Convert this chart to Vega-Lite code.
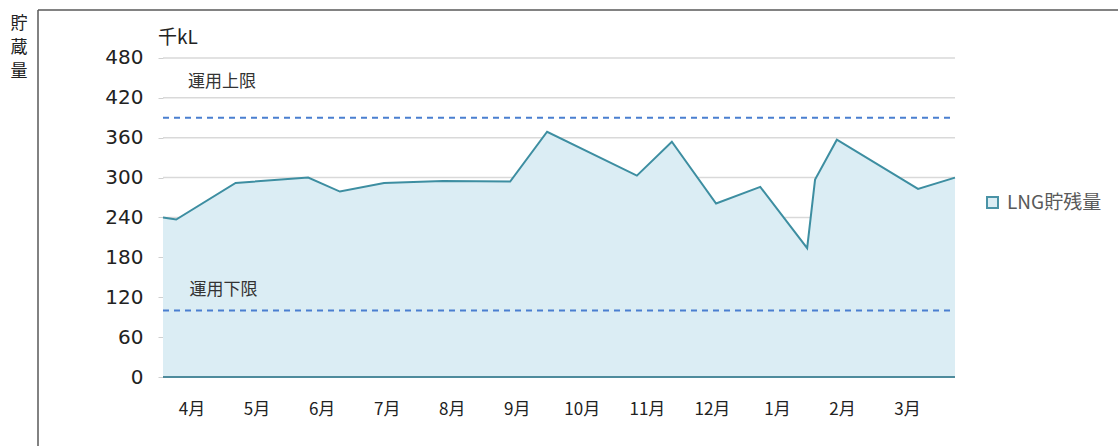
{
  "$schema": "https://vega.github.io/schema/vega-lite/v6.json",
  "width": 1080,
  "height": 436,
  "autosize": {"type": "none"},
  "padding": {"left": 38, "top": 10, "right": 0, "bottom": 0},
  "background": "white",
  "config": {"view": {"stroke": null}, "font": "Noto Sans CJK JP"},
  "datasets": {
    "lng": [
      {"t": 0, "v": 240, "series": "LNG貯残量"},
      {"t": 0.2, "v": 237, "series": "LNG貯残量"},
      {"t": 1.1, "v": 292, "series": "LNG貯残量"},
      {"t": 2.2, "v": 300, "series": "LNG貯残量"},
      {"t": 2.68, "v": 279, "series": "LNG貯残量"},
      {"t": 3.35, "v": 292, "series": "LNG貯残量"},
      {"t": 4.24, "v": 295, "series": "LNG貯残量"},
      {"t": 5.26, "v": 294, "series": "LNG貯残量"},
      {"t": 5.82, "v": 369, "series": "LNG貯残量"},
      {"t": 7.18, "v": 303, "series": "LNG貯残量"},
      {"t": 7.71, "v": 354, "series": "LNG貯残量"},
      {"t": 8.38, "v": 261, "series": "LNG貯残量"},
      {"t": 9.05, "v": 286, "series": "LNG貯残量"},
      {"t": 9.76, "v": 194, "series": "LNG貯残量"},
      {"t": 9.88, "v": 297, "series": "LNG貯残量"},
      {"t": 10.21, "v": 357, "series": "LNG貯残量"},
      {"t": 11.44, "v": 283, "series": "LNG貯残量"},
      {"t": 12, "v": 300, "series": "LNG貯残量"}
    ],
    "grid": [{"g": 60}, {"g": 120}, {"g": 180}, {"g": 240}, {"g": 300}, {"g": 360}, {"g": 420}, {"g": 480}],
    "limits": [{"name": "運用上限", "v": 390}, {"name": "運用下限", "v": 100}],
    "one": [{}]
  },
  "layer": [
    {
      "data": {"name": "grid"},
      "mark": {"type": "rule", "color": "#d9d9d9", "strokeWidth": 1.5},
      "encoding": {
        "y": {"field": "g", "type": "quantitative", "scale": {"domain": [-103.8, 552.2], "nice": false, "zero": false},
          "axis": {"orient": "left", "offset": -125, "values": [0, 60, 120, 180, 240, 300, 360, 420, 480],
            "domain": false, "ticks": true, "tickSize": 5, "tickColor": "#d0d0d0", "grid": false,
            "labelPadding": 15, "labelFontSize": 20, "labelColor": "#222222", "labelFont": "DejaVu Sans", "title": null}},
        "x": {"datum": 0, "type": "quantitative", "scale": {"domain": [-1.894, 14.47], "nice": false, "zero": false},
          "axis": {"orient": "bottom", "offset": -69, "values": [0.432, 1.418, 2.403, 3.389, 4.374, 5.36, 6.345, 7.332, 8.317, 9.303, 10.288, 11.274],
            "labelExpr": "((floor(datum.value) + 3) % 12 + 1) + '月'", "domain": false, "ticks": false, "grid": false,
            "labelPadding": 24, "labelFontSize": 17, "labelColor": "#222222", "labelFont": "Noto Sans CJK JP", "title": null}},
        "x2": {"datum": 12}
      }
    },
    {
      "data": {"name": "lng"},
      "mark": {"type": "area", "opacity": 1},
      "encoding": {
        "x": {"field": "t", "type": "quantitative"},
        "y": {"field": "v", "type": "quantitative"},
        "y2": {"datum": 0},
        "fill": {"field": "series", "type": "nominal", "scale": {"range": ["#dbedf4"]},
          "legend": {"orient": "none", "legendX": 945, "legendY": 183, "title": null, "symbolType": "square", "symbolSize": 121,
            "symbolStrokeColor": "#4a93a6", "symbolStrokeWidth": 2, "labelFontSize": 19, "labelColor": "#595959",
            "labelFont": "Noto Sans CJK JP", "labelOffset": 5}}
      }
    },
    {
      "data": {"name": "lng"},
      "mark": {"type": "line", "color": "#3d8ea1", "strokeWidth": 2},
      "encoding": {
        "x": {"field": "t", "type": "quantitative"},
        "y": {"field": "v", "type": "quantitative"}
      }
    },
    {
      "data": {"name": "one"},
      "mark": {"type": "rule", "color": "#4e8b9c", "strokeWidth": 2},
      "encoding": {"y": {"datum": 0, "type": "quantitative"}, "x": {"datum": 0, "type": "quantitative"}, "x2": {"datum": 12}}
    },
    {
      "data": {"name": "limits"},
      "mark": {"type": "rule", "color": "#4a7fd0", "strokeWidth": 2, "strokeDash": [6, 5]},
      "encoding": {"y": {"field": "v", "type": "quantitative"}, "x": {"datum": 0, "type": "quantitative"}, "x2": {"datum": 12}}
    },
    {
      "data": {"name": "one"},
      "mark": {"type": "text", "text": "運用上限", "align": "left", "baseline": "middle", "fontSize": 17, "color": "#333333", "font": "Noto Sans CJK JP"},
      "encoding": {"x": {"datum": 0.38, "type": "quantitative"}, "y": {"datum": 443.9, "type": "quantitative"}}
    },
    {
      "data": {"name": "one"},
      "mark": {"type": "text", "text": "運用下限", "align": "left", "baseline": "middle", "fontSize": 17, "color": "#333333", "font": "Noto Sans CJK JP"},
      "encoding": {"x": {"datum": 0.4, "type": "quantitative"}, "y": {"datum": 130.9, "type": "quantitative"}}
    },
    {
      "data": {"name": "one"},
      "mark": {"type": "text", "text": "千kL", "align": "left", "baseline": "middle", "fontSize": 19, "color": "#222222", "font": "Noto Sans CJK JP"},
      "encoding": {"x": {"datum": -0.076, "type": "quantitative"}, "y": {"datum": 510.1, "type": "quantitative"}}
    },
    {
      "data": {"name": "one"},
      "mark": {"type": "text", "text": ["貯", "蔵", "量"], "align": "center", "baseline": "top", "fontSize": 17, "lineHeight": 24, "color": "#222222", "font": "Noto Sans CJK JP", "clip": false},
      "encoding": {"x": {"datum": -2.18, "type": "quantitative"}, "y": {"datum": 543.2, "type": "quantitative"}}
    },
    {
      "data": {"name": "one"},
      "mark": {"type": "rule", "color": "#595959", "strokeWidth": 1.5},
      "encoding": {"x": {"datum": -1.894, "type": "quantitative"}}
    },
    {
      "data": {"name": "one"},
      "mark": {"type": "rule", "color": "#595959", "strokeWidth": 1.5},
      "encoding": {"y": {"datum": 552.2, "type": "quantitative"}}
    }
  ]
}
